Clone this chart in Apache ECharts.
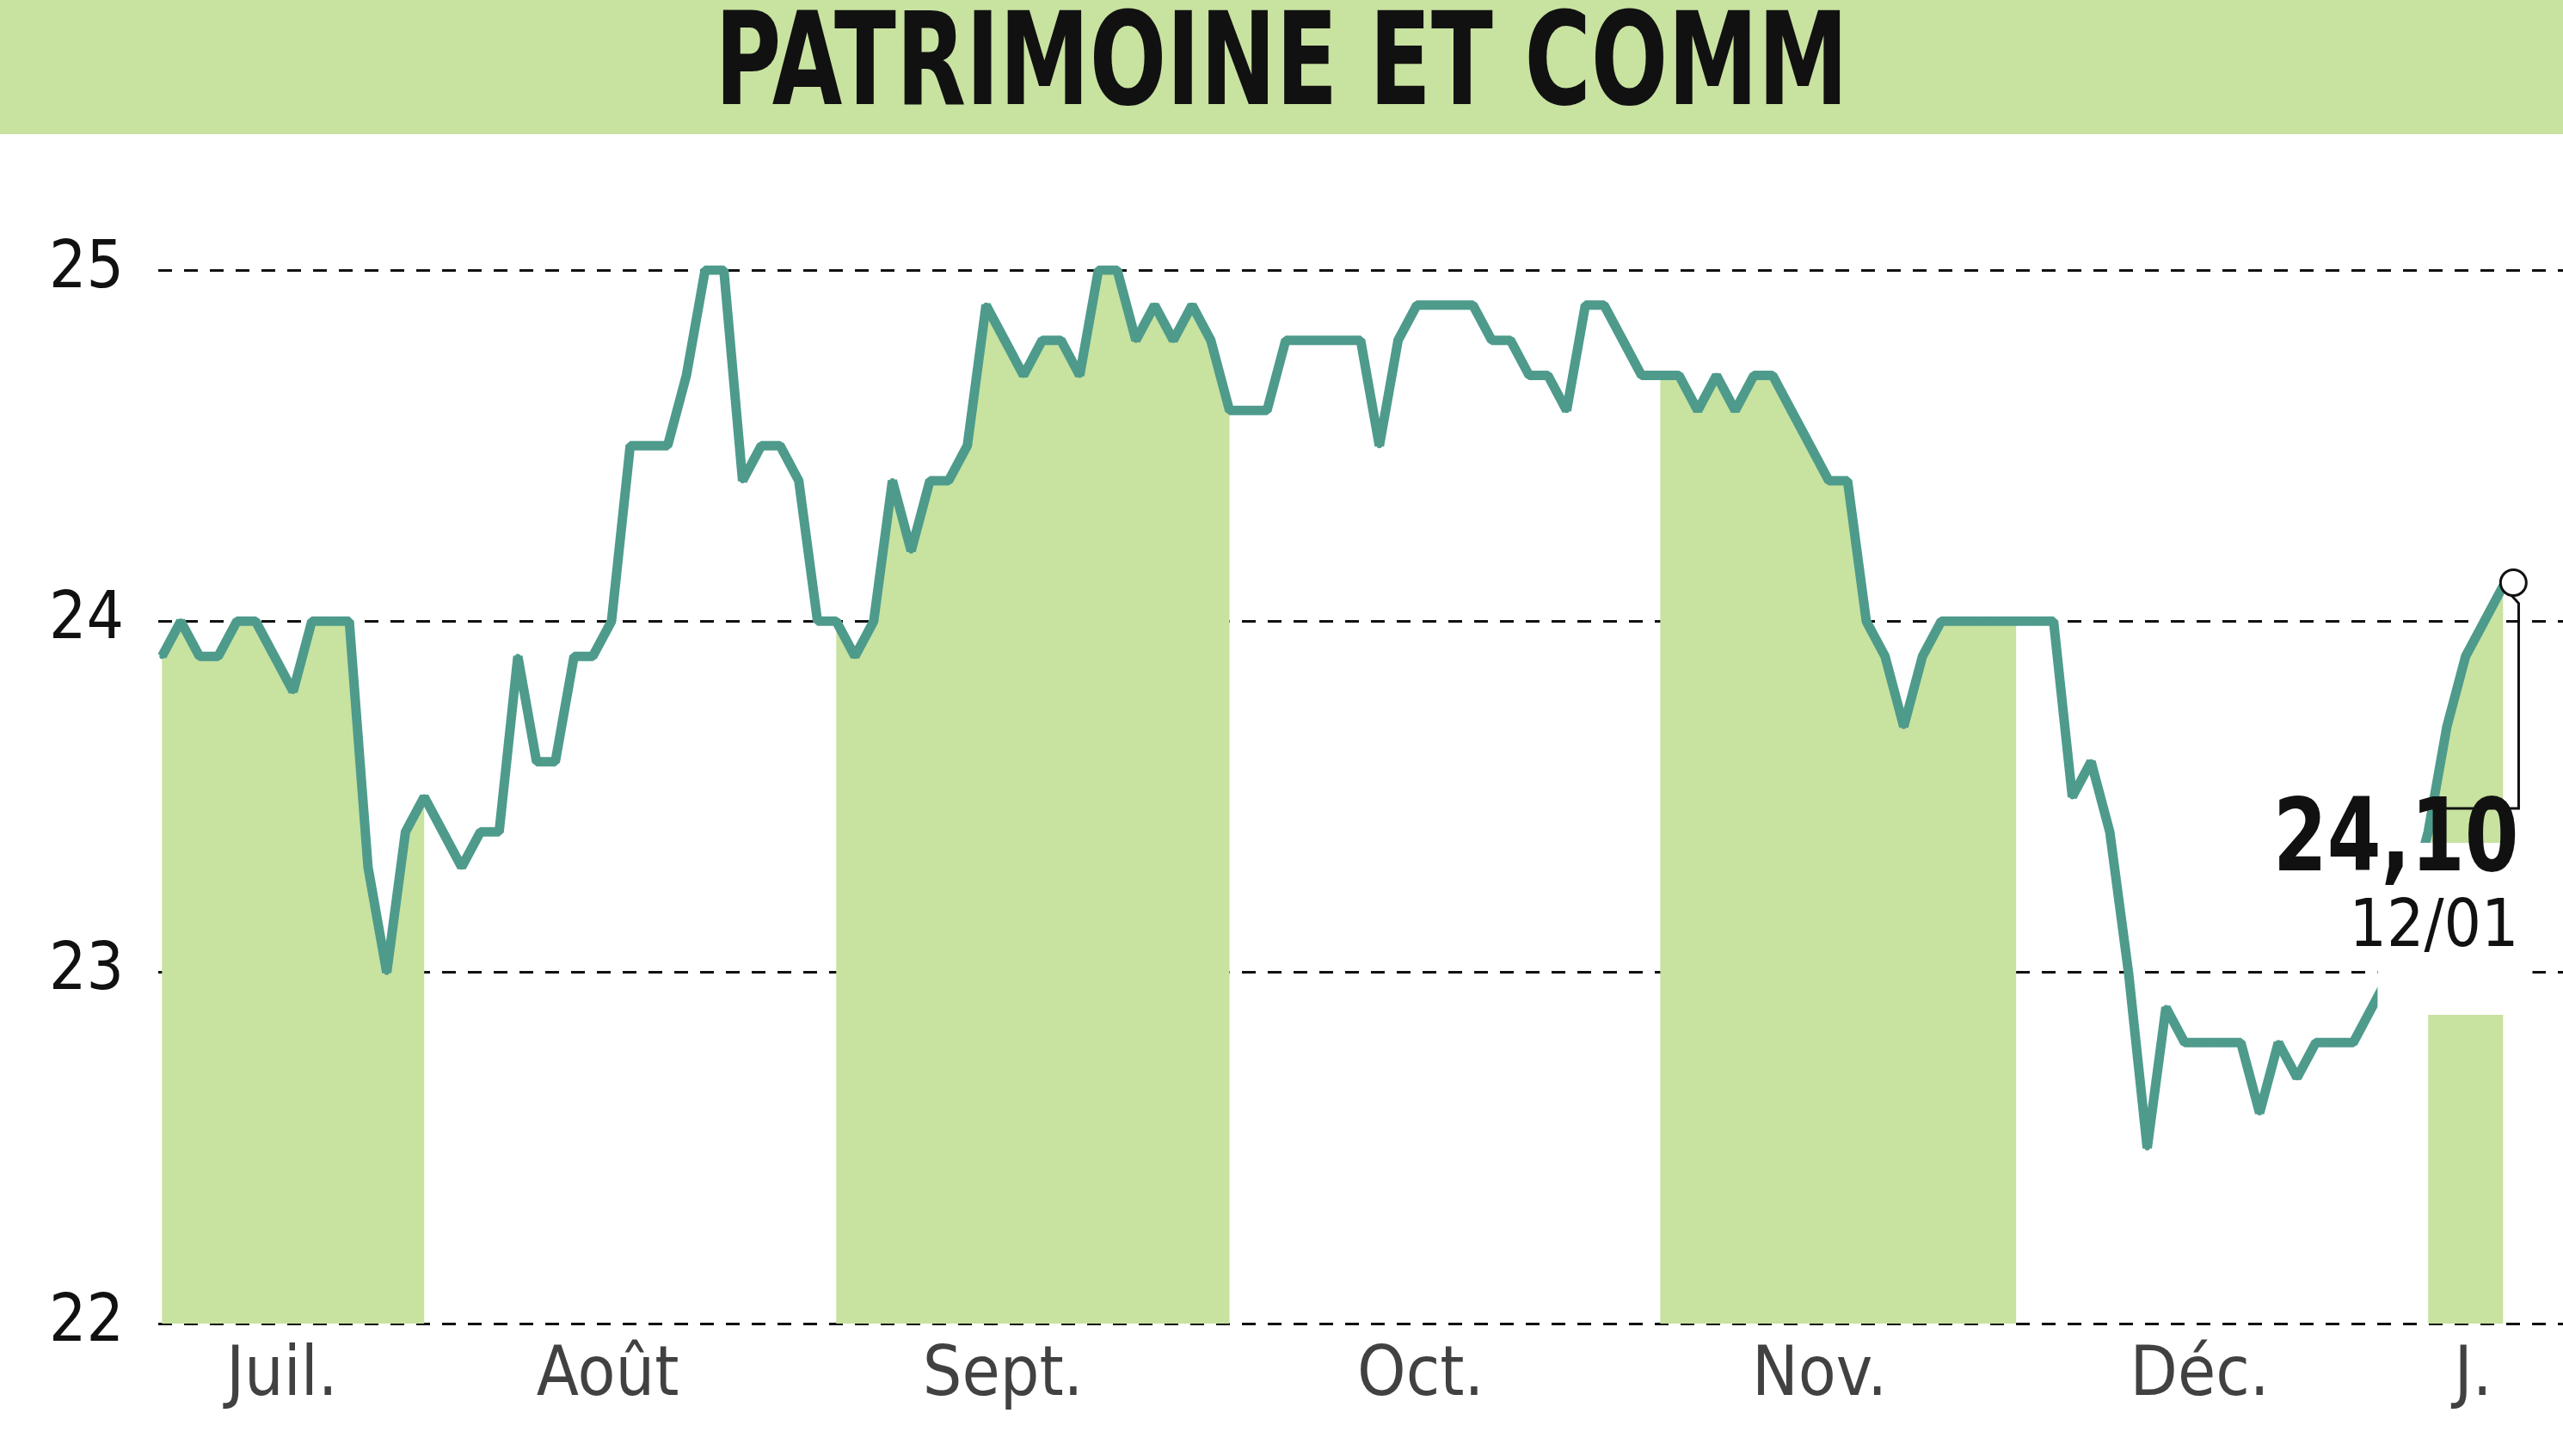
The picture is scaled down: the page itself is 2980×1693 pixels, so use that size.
<!DOCTYPE html>
<html><head><meta charset="utf-8">
<script src="https://cdn.jsdelivr.net/npm/echarts@6/dist/echarts.min.js"></script>
<style>html,body{margin:0;padding:0;background:#fff}#c{width:2980px;height:1693px}</style>
</head><body><div id="c"></div>
<script>
const title = 'PATRIMOINE ET COMM';
const prices = [23.9,24.0,23.9,23.9,24.0,24.0,23.9,23.8,24.0,24.0,24.0,23.3,23.0,23.4,23.5,23.4,23.3,23.4,23.4,23.9,
23.6,23.6,23.9,23.9,24.0,24.5,24.5,24.5,24.7,25.0,25.0,24.4,24.5,24.5,24.4,24.0,24.0,23.9,24.0,24.4,
24.2,24.4,24.4,24.5,24.9,24.8,24.7,24.8,24.8,24.7,25.0,25.0,24.8,24.9,24.8,24.9,24.8,24.6,24.6,24.6,
24.8,24.8,24.8,24.8,24.8,24.5,24.8,24.9,24.9,24.9,24.9,24.8,24.8,24.7,24.7,24.6,24.9,24.9,24.8,24.7,
24.7,24.7,24.6,24.7,24.6,24.7,24.7,24.6,24.5,24.4,24.4,24.0,23.9,23.7,23.9,24.0,24.0,24.0,24.0,24.0,
24.0,24.0,23.5,23.6,23.4,23.0,22.5,22.9,22.8,22.8,22.8,22.8,22.6,22.8,22.7,22.8,22.8,22.8,22.9,23.0,
23.2,23.4,23.7,23.9,24.0,24.1];
const monthNames = ['Juil.','Août','Sept.','Oct.','Nov.','Déc.','J.'];
const monthPos = [6.4,23.8,44.9,67.2,88.5,108.8,123.4];
const bandFirst = [0,36,80,121];
const bandLast = [14,57,99,125];
const lastLabel = '24,10', lastDate = '12/01';

const chart = echarts.init(document.getElementById('c'));
const F = '"DejaVu Sans Condensed","Liberation Sans Narrow",sans-serif';
const green = '#c8e2a0', lineC = '#4e9b8c';
const lineData = prices.map((v,i)=>[i,v]);
const bandSeries = bandFirst.map((s,k)=>({type:'line',symbol:'none',lineStyle:{width:0},
  areaStyle:{color:green,opacity:1,origin:'start'},z:1,silent:true,
  data:lineData.slice(s,bandLast[k]+1)}));
chart.setOption({
  animation:false,
  grid:{left:184,right:0,top:314,bottom:154},
  xAxis:{type:'value',min:-0.2,max:128.2,axisLine:{show:false},axisTick:{show:false},axisLabel:{show:false},splitLine:{show:false}},
  yAxis:{type:'value',min:22,max:25,interval:1,axisLine:{show:false},axisTick:{show:false},
    axisLabel:{fontFamily:F,fontSize:76,color:'#111',margin:40},
    splitLine:{lineStyle:{color:'#111',type:[16,14],width:3}}},
  series:bandSeries.concat([
    {type:'line',data:lineData,symbol:'circle',symbolSize:6,showSymbol:true,itemStyle:{color:lineC},
     lineStyle:{color:lineC,width:11},z:3},
    {type:'scatter',symbolSize:0,data:monthPos.map((p,i)=>({value:[p,22],name:monthNames[i]})),
     label:{show:true,position:'bottom',distance:22,formatter:p=>p.name,fontFamily:F,fontSize:80,color:'#111'},z:5}
  ])
});
const last = prices.length-1;
const pt = chart.convertToPixel({gridIndex:0},[last,prices[last]]);
const xr = chart.convertToPixel({gridIndex:0},[126.2,22])[0];
const xl = chart.convertToPixel({gridIndex:0},[121.2,22])[0];
const x0 = chart.convertToPixel({gridIndex:0},[118.3,22])[0];
const yb = 940;
chart.setOption({graphic:[
  {type:'rect',shape:{x:0,y:0,width:2980,height:156},style:{fill:green}},
  {type:'text',x:1490,y:82,scaleX:0.78,style:{text:title,fontFamily:F,fontWeight:'bold',fontSize:150,fill:'#111',align:'center',verticalAlign:'middle'}},
  {type:'rect',shape:{x:x0,y:yb+40,width:xr-x0+8,height:200},style:{fill:'#fff'},z:10},
  {type:'polyline',shape:{points:[[pt[0],pt[1]],[xr-8,pt[1]+20],[xr-8,yb],[xl,yb]]},style:{stroke:'#111',lineWidth:3,fill:null},z:11},
  {type:'circle',shape:{cx:pt[0]+12,cy:pt[1]-4,r:15},style:{fill:'#fff',stroke:'#111',lineWidth:3},z:12},
  {type:'text',x:xr-8,y:yb+100,scaleX:0.85,style:{text:lastLabel,fontFamily:F,fontWeight:'bold',fontSize:118,fill:'#111',align:'right',verticalAlign:'bottom'},z:12},
  {type:'text',x:xr-8,y:yb+178,style:{text:lastDate,fontFamily:F,fontSize:76,fill:'#111',align:'right',verticalAlign:'bottom'},z:12}
]});
</script></body></html>
